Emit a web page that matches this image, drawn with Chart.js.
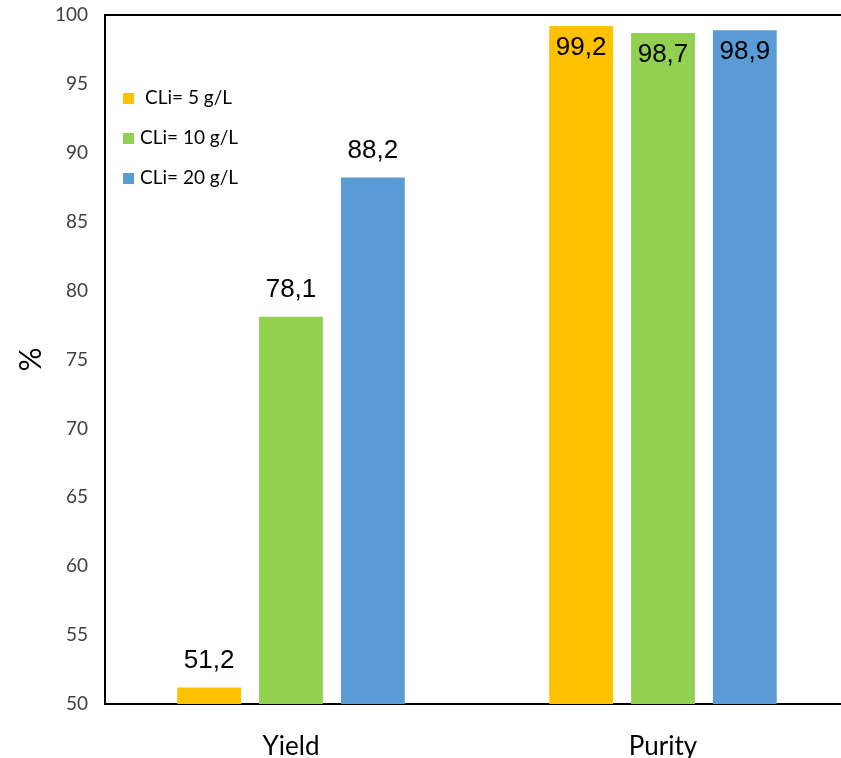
<!DOCTYPE html>
<html>
<head>
<meta charset="utf-8">
<script src="https://cdn.jsdelivr.net/npm/chart.js@4"></script>
<style>
  html, body { margin: 0; padding: 0; background: #fff; overflow: hidden; }
  #wrap { width: 850px; height: 758px; }
</style>
</head>
<body>
<div id="wrap"><canvas id="chart" width="850" height="758"></canvas></div>
<script>
const categories = ["Yield", "Purity"];
const seriesNames = ["CLi= 5 g/L", "CLi= 10 g/L", "CLi= 20 g/L"];
const cli5 = [51.2, 99.2];
const cli10 = [78.1, 98.7];
const cli20 = [88.2, 98.9];
const yTicks = [50, 55, 60, 65, 70, 75, 80, 85, 90, 95, 100];

const colors = ["#FFC000", "#92D050", "#5B9BD5"];

// frame line along the top of the plot area
const topBorder = {
  id: "topBorder",
  afterDraw(chart) {
    const { ctx, chartArea } = chart;
    ctx.save();
    ctx.strokeStyle = "#000";
    ctx.lineWidth = 2;
    ctx.beginPath();
    ctx.moveTo(chartArea.left - 1, chartArea.top);
    ctx.lineTo(chartArea.right, chartArea.top);
    ctx.stroke();
    ctx.restore();
  }
};

// value labels: above the bar, or inside its top when close to the max
const valueLabels = {
  id: "valueLabels",
  afterDatasetsDraw(chart) {
    const { ctx } = chart;
    ctx.save();
    ctx.font = "26px 'Liberation Sans', Arial, sans-serif";
    ctx.fillStyle = "#000";
    ctx.textAlign = "center";
    ctx.textBaseline = "middle";
    chart.data.datasets.forEach((ds, i) => {
      chart.getDatasetMeta(i).data.forEach((bar, j) => {
        const v = ds.data[j];
        const txt = v.toFixed(1).replace(".", ",");
        const y = v > 97 ? bar.y + 22 : bar.y - 27;
        ctx.fillText(txt, bar.x, y);
      });
    });
    ctx.restore();
  }
};

// legend in the upper left of the plot
const insideLegend = {
  id: "insideLegend",
  afterDraw(chart) {
    const { ctx, chartArea } = chart;
    ctx.save();
    ctx.font = "19px Lato, 'Open Sans', sans-serif";
    ctx.textBaseline = "middle";
    chart.data.datasets.forEach((ds, i) => {
      const y = 98 + i * 40;
      const x = chartArea.left + 18;
      ctx.fillStyle = ds.backgroundColor;
      ctx.fillRect(x, y - 5, 11, 11);
      ctx.fillStyle = "#000";
      ctx.fillText(ds.label, x + (i === 0 ? 22 : 17), y);
    });
    ctx.restore();
  }
};

new Chart(document.getElementById("chart"), {
  type: "bar",
  data: {
    labels: categories,
    datasets: [
      { label: seriesNames[0], data: cli5, backgroundColor: colors[0] },
      { label: seriesNames[1], data: cli10, backgroundColor: colors[1] },
      { label: seriesNames[2], data: cli20, backgroundColor: colors[2] },
    ],
  },
  options: {
    responsive: false,
    animation: false,
    devicePixelRatio: 1,
    layout: { padding: { top: 15, right: 1, left: 0, bottom: 0 } },
    datasets: {
      bar: { categoryPercentage: 0.66, barPercentage: 0.78 }
    },
    plugins: {
      legend: { display: false },
      tooltip: { enabled: false },
    },
    scales: {
      x: {
        grid: { display: false, drawTicks: false },
        border: { display: true, color: "#000", width: 2 },
        ticks: {
          padding: 27,
          color: "#000",
          font: { family: "Lato, 'Open Sans', sans-serif", size: 26 },
        },
        afterFit(scale) { scale.height = 54; },
      },
      y: {
        min: 50,
        max: 100,
        afterBuildTicks(scale) { scale.ticks = yTicks.map(v => ({ value: v })); },
        grid: { display: false, drawTicks: false },
        border: { display: true, color: "#000", width: 2 },
        ticks: {
          padding: 17,
          color: "#404040",
          font: { family: "Lato, 'Open Sans', sans-serif", size: 19 },
        },
        title: {
          display: true,
          text: "%",
          color: "#000",
          font: { family: "Lato, 'Open Sans', sans-serif", size: 30 },
          padding: { top: 13, bottom: 0 },
        },
        afterFit(scale) {
          scale.width = 105;
          scale.paddingTop = 0;
          scale.paddingBottom = 0;
        },
      },
    },
  },
  plugins: [topBorder, valueLabels, insideLegend],
});
</script>
</body>
</html>
